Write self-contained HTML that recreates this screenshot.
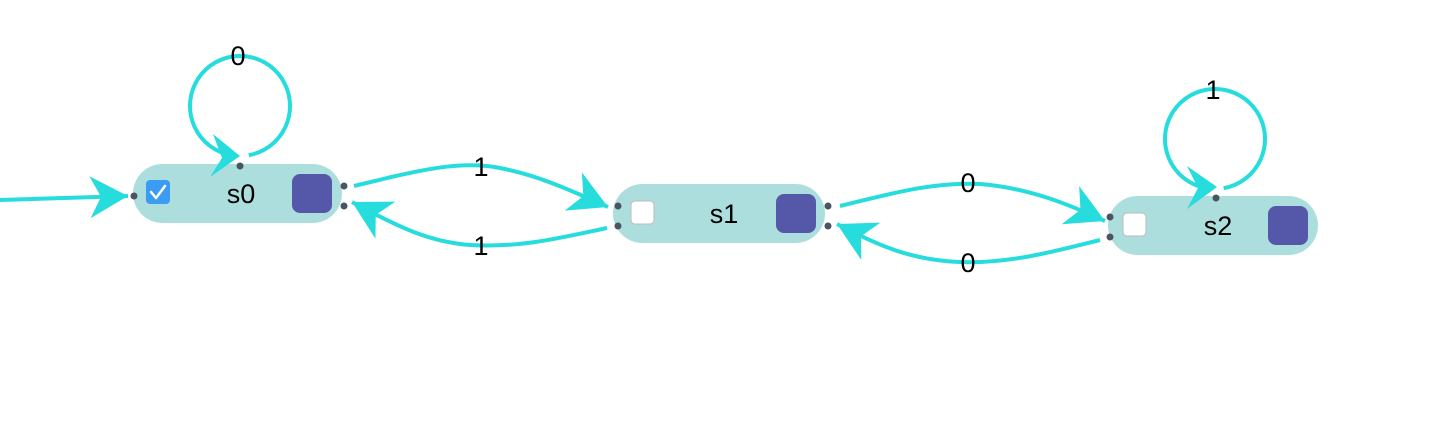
<!DOCTYPE html>
<html><head><meta charset="utf-8"><style>
html,body{margin:0;padding:0;background:#fff;}
svg{display:block}
text{font-family:"Liberation Sans",sans-serif;font-size:27px;fill:#000;text-anchor:middle;dominant-baseline:central}
</style></head><body>
<svg width="1442" height="422" viewBox="0 0 1442 422" xmlns="http://www.w3.org/2000/svg">
<defs>
<marker id="a" markerUnits="userSpaceOnUse" markerWidth="50" markerHeight="50" viewBox="-44 -25 50 50" refX="0" refY="0" orient="auto" overflow="visible">
<path d="M0 0 L-38 -21 L-27 0 L-38 21 Z" fill="#26dcdc"/>
</marker>
</defs>
<rect x="133" y="164" width="209" height="59" rx="29.5" fill="#addede"/>
<rect x="613" y="184" width="212" height="59" rx="29.5" fill="#addede"/>
<rect x="1108" y="196" width="210" height="59" rx="29.5" fill="#addede"/>
<g fill="none" stroke="#26dcdc" stroke-width="4">
<path d="M0 200 L128 196" marker-end="url(#a)"/>
<path d="M248.7 155.2 A50 50 0 1 0 231.3 155.2"/>
<path d="M354 186 C420 170 460 160 500 168 C540 176 570 190 608 207" marker-end="url(#a)"/>
<path d="M607 228 C560 238 520 248 470 245 C430 242 400 228 352 202" marker-end="url(#a)"/>
<path d="M840 206 C890 194 930 182 980 184 C1030 188 1070 205 1105 221" marker-end="url(#a)"/>
<path d="M1100 240 C1060 250 1010 264 960 262 C910 260 880 246 837 224" marker-end="url(#a)"/>
<path d="M1223.7 188.2 A50 50 0 1 0 1206.3 188.2"/>
</g>
<path d="M240 156 L213 134 L222 158 L210 177 Z" fill="#26dcdc"/>
<path d="M1217 187 L1187 166 L1198 188 L1187 209 Z" fill="#26dcdc"/>
<rect x="146" y="180" width="24" height="24" rx="4" fill="#3c9bf2"/>
<path d="M151 192 L156 198 L165 186" stroke="#fff" stroke-width="2.5" fill="none" stroke-linecap="round" stroke-linejoin="round"/>
<rect x="631" y="201" width="23" height="23" rx="4" fill="#fff" stroke="#bbb" stroke-width="1"/>
<rect x="1123" y="213" width="23" height="23" rx="4" fill="#fff" stroke="#bbb" stroke-width="1"/>
<rect x="292" y="174" width="40" height="39" rx="8" fill="#5557a8"/>
<rect x="776" y="194" width="40" height="39" rx="8" fill="#5557a8"/>
<rect x="1268" y="206" width="40" height="39" rx="8" fill="#5557a8"/>
<text x="241" y="194">s0</text>
<text x="724" y="214">s1</text>
<text x="1218" y="226">s2</text>
<g fill="#4a5563">
<circle cx="134" cy="196" r="3.5"/><circle cx="240" cy="166" r="3.5"/>
<circle cx="344" cy="186" r="3.5"/><circle cx="344" cy="206" r="3.5"/>
<circle cx="618" cy="206" r="3.5"/><circle cx="618" cy="226" r="3.5"/>
<circle cx="828" cy="206" r="3.5"/><circle cx="828" cy="226" r="3.5"/>
<circle cx="1110" cy="217" r="3.5"/><circle cx="1110" cy="237" r="3.5"/>
<circle cx="1216" cy="198" r="3.5"/>
</g>
<text x="238" y="56">0</text>
<text x="1213" y="90">1</text>
<text x="481" y="167">1</text>
<text x="481" y="246">1</text>
<text x="968" y="183">0</text>
<text x="968" y="263">0</text>
</svg>
</body></html>
